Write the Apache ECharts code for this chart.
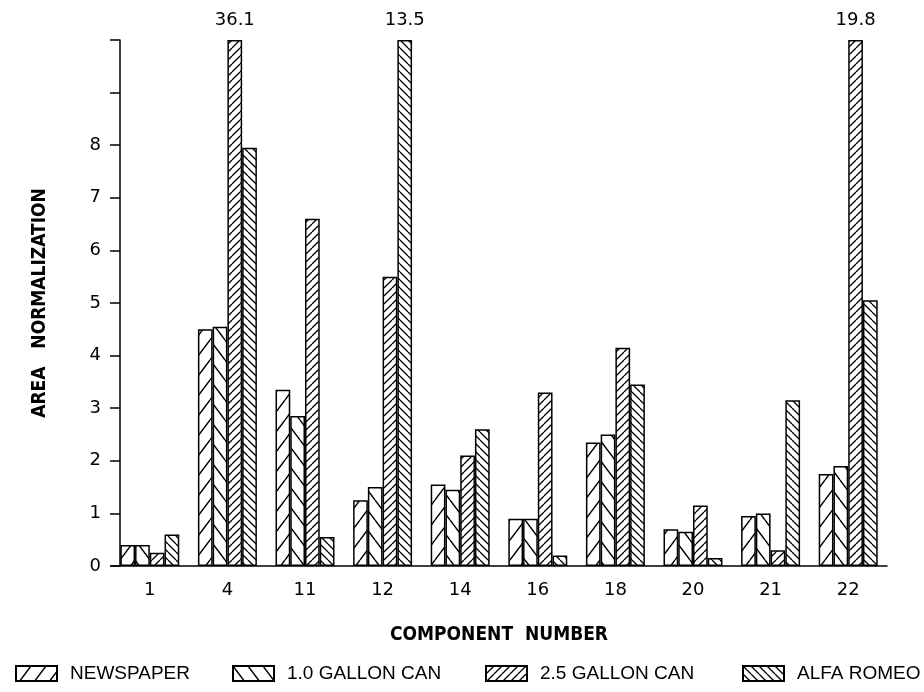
<!DOCTYPE html>
<html>
<head>
<meta charset="utf-8">
<script src="https://cdn.jsdelivr.net/npm/echarts@6/dist/echarts.min.js"></script>
<style>
  html, body { margin: 0; padding: 0; background: #fff; }
  #chart { width: 924px; height: 692px; }
</style>
</head>
<body>
<div id="chart"></div>
<script>
// component numbers on the x axis
const components = ['1', '4', '11', '12', '14', '16', '18', '20', '21', '22'];

// area normalization per source
const newspaper = [0.4, 4.5, 3.35, 1.25, 1.55, 0.9, 2.35, 0.7, 0.95, 1.75];
const gallon10 = [0.4, 4.55, 2.85, 1.5, 1.45, 0.9, 2.5, 0.65, 1.0, 1.9];
const gallon25 = [0.25, 36.1, 6.6, 5.5, 2.1, 3.3, 4.15, 1.15, 0.3, 19.8];
const alfaRomeo = [0.6, 7.95, 0.55, 13.5, 2.6, 0.2, 3.45, 0.15, 3.15, 5.05];

const seriesNames = ['NEWSPAPER', '1.0 GALLON CAN', '2.5 GALLON CAN', 'ALFA ROMEO'];
const legendLeft = [10, 227, 480, 737];
const yMax = 10;

const narrow = 'Liberation Sans Narrow, DejaVu Sans Condensed, Roboto';

// hatch tile, repeated as a canvas pattern
function hatch(w, h, dir, lw) {
  const c = document.createElement('canvas');
  c.width = w; c.height = h;
  const g = c.getContext('2d');
  g.fillStyle = '#fff';
  g.fillRect(0, 0, w, h);
  g.strokeStyle = '#000';
  g.lineWidth = lw;
  g.beginPath();
  for (let k = -1; k <= 1; k++) {
    if (dir === '/') {
      g.moveTo(k * w, h); g.lineTo((k + 1) * w, 0);
    } else {
      g.moveTo(k * w, 0); g.lineTo((k + 1) * w, h);
    }
  }
  g.stroke();
  return { image: c, repeat: 'repeat' };
}

const fills = [
  hatch(15, 20, '/', 1.4),
  hatch(15, 20, '\\', 1.4),
  hatch(8, 8, '/', 1.3),
  hatch(8, 8, '\\', 1.3)
];

function makeSeries(name, values, fill) {
  return {
    name: name,
    type: 'bar',
    barGap: '0%',
    barCategoryGap: '24%',
    itemStyle: { color: fill, borderColor: '#000', borderWidth: 1.5 },
    data: values.map(v => ({
      value: Math.min(v, yMax),
      label: {
        show: v > yMax,
        position: 'top',
        distance: 11,
        formatter: String(v),
        color: '#000',
        fontFamily: 'DejaVu Sans',
        fontSize: 18
      }
    }))
  };
}

// one legend per entry, placed like the original key
const legends = seriesNames.map((n, i) => ({
  top: 659,
  left: legendLeft[i],
  itemWidth: 41,
  itemHeight: 15,
  icon: 'rect',
  textStyle: {
    color: '#000',
    fontFamily: 'Liberation Sans, Arial',
    fontSize: 19,
    padding: [0, 0, 0, 8]
  },
  data: [n]
}));

const chart = echarts.init(document.getElementById('chart'));
chart.setOption({
  animation: false,
  backgroundColor: '#fff',
  grid: { left: 111, right: 37, top: 40, bottom: 126, containLabel: false },
  legend: legends,
  xAxis: {
    type: 'category',
    data: components,
    name: 'COMPONENT  NUMBER',
    nameLocation: 'middle',
    nameGap: 60,
    nameTextStyle: { color: '#000', fontFamily: narrow, fontWeight: 'bold', fontSize: 19 },
    axisLine: { lineStyle: { color: '#000', width: 1.5 } },
    axisTick: { alignWithLabel: true, length: 9, lineStyle: { color: '#000', width: 1.5 } },
    axisLabel: { color: '#000', fontFamily: 'DejaVu Sans', fontSize: 18, margin: 15 }
  },
  yAxis: {
    type: 'value',
    min: 0,
    max: yMax,
    interval: 1,
    offset: -9,
    name: 'AREA   NORMALIZATION',
    nameLocation: 'middle',
    nameGap: 70,
    nameTextStyle: { color: '#000', fontFamily: narrow, fontWeight: 'bold', fontSize: 19 },
    splitLine: { show: false },
    axisLine: { show: true, lineStyle: { color: '#000', width: 1.5 } },
    axisTick: { show: true, length: 10, lineStyle: { color: '#000', width: 1.5 } },
    axisLabel: {
      color: '#000',
      fontFamily: 'DejaVu Sans',
      fontSize: 18,
      margin: 19,
      formatter: v => (v <= 8 ? String(v) : '')
    }
  },
  series: [
    makeSeries(seriesNames[0], newspaper, fills[0]),
    makeSeries(seriesNames[1], gallon10, fills[1]),
    makeSeries(seriesNames[2], gallon25, fills[2]),
    makeSeries(seriesNames[3], alfaRomeo, fills[3])
  ]
});
</script>
</body>
</html>
